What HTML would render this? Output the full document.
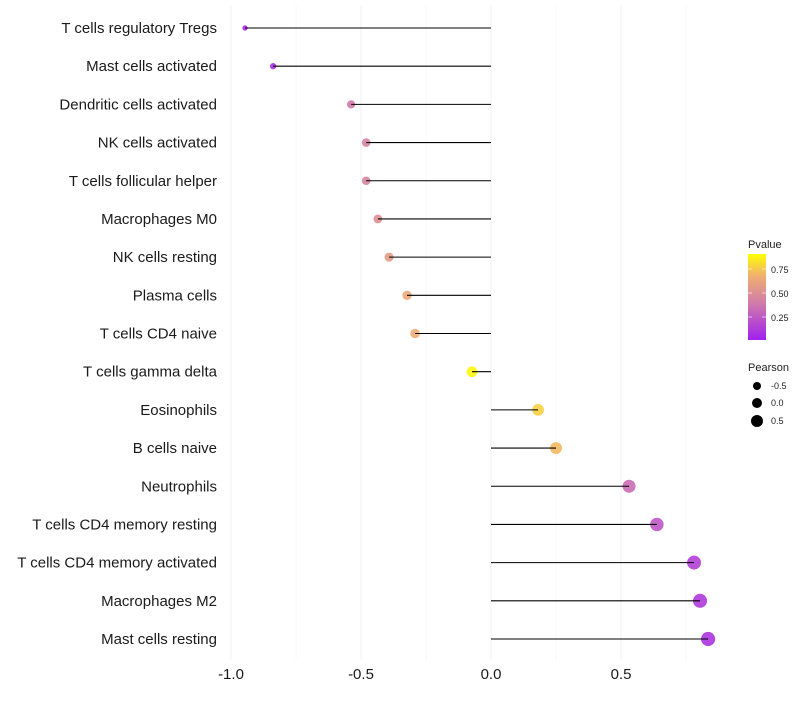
<!DOCTYPE html>
<html><head><meta charset="utf-8"><style>
body{margin:0;background:#fff;font-family:"Liberation Sans",sans-serif}
</style></head><body>
<svg id="chart" width="800" height="700" xmlns="http://www.w3.org/2000/svg" font-family="Liberation Sans, sans-serif">
<defs>
<linearGradient id="pg" x1="0" y1="1" x2="0" y2="0">
<stop offset="0" stop-color="#a020f0"/><stop offset="0.42" stop-color="#d07aaa"/><stop offset="0.75" stop-color="#f0b070"/><stop offset="1" stop-color="#ffff00"/>
</linearGradient>
</defs>
<g id="grid"></g>
<g id="dots"></g>
<g id="marks"></g>
<g id="ylabels"></g>
<g id="xlabels"></g>
<g>
<text x="748" y="248" font-size="11" fill="#222">Pvalue</text>
<rect x="748" y="254" width="18" height="86" fill="url(#pg)"/>
<g stroke="#fff" stroke-opacity="0.6"><line x1="748" y1="269" x2="752" y2="269"/><line x1="762" y1="269" x2="766" y2="269"/><line x1="748" y1="293" x2="752" y2="293"/><line x1="762" y1="293" x2="766" y2="293"/><line x1="748" y1="317" x2="752" y2="317"/><line x1="762" y1="317" x2="766" y2="317"/></g>
<text x="771" y="273" font-size="9" fill="#222">0.75</text>
<text x="771" y="297" font-size="9" fill="#222">0.50</text>
<text x="771" y="321" font-size="9" fill="#222">0.25</text>
</g>
<g>
<text x="748" y="371" font-size="11" fill="#222">Pearson</text>
<circle cx="757" cy="386" r="4" fill="#000"/><text x="771" y="389" font-size="9" fill="#222">-0.5</text>
<circle cx="757" cy="403" r="5" fill="#000"/><text x="771" y="406" font-size="9" fill="#222">0.0</text>
<circle cx="757" cy="421" r="6" fill="#000"/><text x="771" y="424" font-size="9" fill="#222">0.5</text>
</g>
</svg>
<script>
const categories=["T cells regulatory  Tregs","Mast cells activated","Dendritic cells activated","NK cells activated","T cells follicular helper","Macrophages M0","NK cells resting","Plasma cells","T cells CD4 naive","T cells gamma delta","Eosinophils","B cells naive","Neutrophils","T cells CD4 memory resting","T cells CD4 memory activated","Macrophages M2","Mast cells resting"];
const pearson=[-0.946,-0.838,-0.538,-0.48,-0.48,-0.435,-0.392,-0.323,-0.292,-0.073,0.181,0.25,0.531,0.638,0.781,0.804,0.835];
const pvalues=[0.05,0.08,0.42,0.47,0.47,0.55,0.62,0.7,0.73,0.97,0.85,0.78,0.36,0.26,0.15,0.12,0.1];
const xTicks=[-1.0,-0.5,0.0,0.5];
const xTickLabels=["-1.0","-0.5","0.0","0.5"];
const NS="http://www.w3.org/2000/svg";
const xs=v=>491+v*260;
const ys=i=>28+i*(639-28)/(categories.length-1);
function mk(t,a,p){const e=document.createElementNS(NS,t);for(const k in a)e.setAttribute(k,a[k]);p.appendChild(e);return e;}
function hex(h){return [1,3,5].map(i=>parseInt(h.substr(i,2),16));}
const stops=[[0,"#a020f0"],[0.42,"#d07aaa"],[0.75,"#f0b070"],[1,"#ffff00"]];
function col(p){for(let i=1;i<stops.length;i++){if(p<=stops[i][0]){const t=(p-stops[i-1][0])/(stops[i][0]-stops[i-1][0]);const a=hex(stops[i-1][1]),b=hex(stops[i][1]);return "rgb("+a.map((c,j)=>Math.round(c+(b[j]-c)*t)).join(",")+")";}}return stops[3][1];}
const grid=document.getElementById('grid');
for(let v=-1;v<=0.76;v+=0.25){const l=mk('line',{x1:xs(v),x2:xs(v),y1:5,y2:660,stroke:"#f0f0f0","stroke-width":v%0.5===0?1:0.5},grid);

}
const marks=document.getElementById('marks'),dots=document.getElementById('dots'),yl=document.getElementById('ylabels'),xl=document.getElementById('xlabels');
categories.forEach((c,i)=>{
const y=ys(i);
const r=Math.sqrt(Math.max(2.5,30+24*pearson[i]));
const d=mk('circle',{cx:xs(pearson[i]),cy:y,r:r,fill:col(pvalues[i]),"fill-opacity":0.9},dots);


const l=mk('line',{x1:xs(0),x2:xs(pearson[i]),y1:y,y2:y,stroke:"#000","stroke-width":1.1},marks);


const t=mk('text',{x:217,y:y+5,"text-anchor":"end","font-size":15,fill:"#1a1a1a"},yl);t.textContent=c;


});
xTicks.forEach((v,i)=>{const t=mk('text',{x:xs(v),y:679,"text-anchor":"middle","font-size":15,fill:"#1a1a1a"},xl);t.textContent=xTickLabels[i];

});
</script>
</body></html>
